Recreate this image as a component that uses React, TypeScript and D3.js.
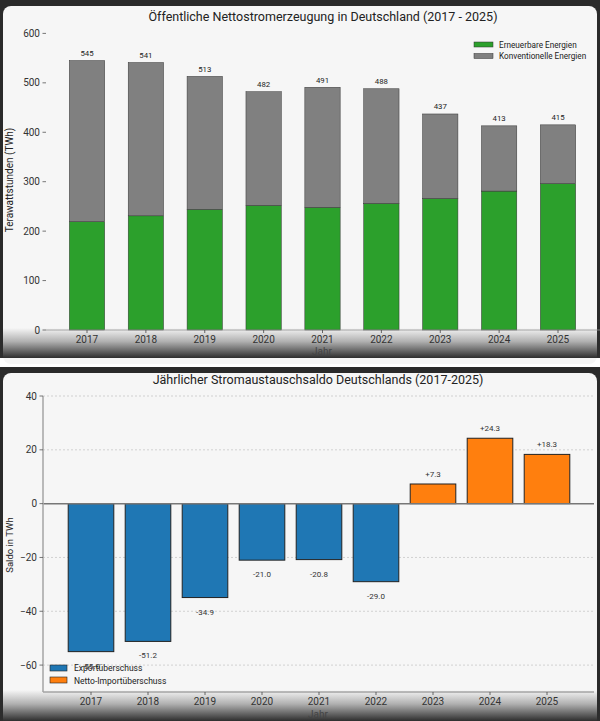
import * as d3 from 'd3'

const FONT = 'Roboto, "Open Sans", sans-serif'

// Öffentliche Nettostromerzeugung (TWh)
const years = ['2017', '2018', '2019', '2020', '2021', '2022', '2023', '2024', '2025']
const renewable = [219, 231, 244, 252, 248, 256, 266, 281, 296]
const total = [545, 541, 513, 482, 491, 488, 437, 413, 415]
const genTicks = [0, 100, 200, 300, 400, 500, 600]

// Stromaustauschsaldo (TWh)
const saldo = [-55.0, -51.2, -34.9, -21.0, -20.8, -29.0, 7.3, 24.3, 18.3]
const saldoTicks = [-60, -40, -20, 0, 20, 40]

function Panel({ top, bottom, id }: { top: number; bottom: number; id: string }) {
  return (
    <g>
      <rect x={0} y={top} width={600} height={bottom - top} fill="#2a2a2a" />
      <rect x={3} y={top + 6} width={594} height={bottom - top} rx={8} fill="#f6f6f6" />
      <defs>
        <linearGradient id={id} x1="0" y1="0" x2="0" y2="1">
          <stop offset="0%" stopColor="#2e2e2e" stopOpacity={0} />
          <stop offset="45%" stopColor="#2e2e2e" stopOpacity={0.35} />
          <stop offset="100%" stopColor="#2e2e2e" stopOpacity={1} />
        </linearGradient>
      </defs>
    </g>
  )
}

function GenerationChart() {
  const x = d3.scaleLinear().domain([0, 8]).range([87, 558])
  const y = d3.scaleLinear().domain([0, 600]).range([330, 33.4])
  const bw = 0.6 * (x(1) - x(0))
  return (
    <g fontFamily={FONT}>
      <text x={323} y={21} textAnchor="middle" fontSize={12.5} fill="#222">
        Öffentliche Nettostromerzeugung in Deutschland (2017 - 2025)
      </text>
      {years.map((yr, i) => (
        <g key={yr}>
          <rect x={x(i) - bw / 2} y={y(renewable[i])} width={bw} height={y(0) - y(renewable[i])}
            fill="#2ca02c" stroke="#333" strokeWidth={0.5} />
          <rect x={x(i) - bw / 2} y={y(total[i])} width={bw} height={y(renewable[i]) - y(total[i])}
            fill="#808080" stroke="#333" strokeWidth={0.5} />
          <text x={x(i)} y={y(total[i]) - 4.5} textAnchor="middle" fontSize={7.8} fill="#222">{total[i]}</text>
        </g>
      ))}
      <line x1={46} x2={600} y1={y(0)} y2={y(0)} stroke="#999" strokeWidth={0.8} />
      {genTicks.map(t => (
        <g key={t}>
          <line x1={42.5} x2={46} y1={y(t)} y2={y(t)} stroke="#555" strokeWidth={0.8} />
          <text x={40} y={y(t) + 3.5} textAnchor="end" fontSize={10} fill="#333">{t}</text>
        </g>
      ))}
      <text transform={`translate(13,${180}) rotate(-90)`} textAnchor="middle" fontSize={10} fill="#222">
        Terawattstunden (TWh)
      </text>
      <g transform="translate(474,0)">
        <rect x={0} y={42} width={19} height={5} fill="#2ca02c" stroke="#333" strokeWidth={0.5} />
        <text x={25} y={47.5} fontSize={8.2} fill="#222">Erneuerbare Energien</text>
        <rect x={0} y={53.5} width={19} height={5} fill="#808080" stroke="#333" strokeWidth={0.5} />
        <text x={25} y={59} fontSize={8.2} fill="#222">Konventionelle Energien</text>
      </g>
      <rect x={0} y={328} width={600} height={30} fill="url(#grad1)" />
      {years.map((yr, i) => (
        <g key={yr}>
          <line x1={x(i)} x2={x(i)} y1={y(0)} y2={y(0) + 3} stroke="#444" strokeWidth={0.8} />
          <text x={x(i)} y={343} textAnchor="middle" fontSize={10} fill="#333">{yr}</text>
        </g>
      ))}
      <text x={322} y={355} textAnchor="middle" fontSize={10} fill="#444">Jahr</text>
    </g>
  )
}

function SaldoChart() {
  const x = d3.scaleLinear().domain([0, 8]).range([91, 547])
  const y = d3.scaleLinear().domain([-70, 40]).range([692, 396])
  const bw = 0.8 * (x(1) - x(0))
  const left = 43
  const right = 594
  const fmt = (v: number) => (v > 0 ? '+' : '') + v.toFixed(1)
  return (
    <g fontFamily={FONT}>
      <text x={318} y={384} textAnchor="middle" fontSize={12.5} fill="#222">
        Jährlicher Stromaustauschsaldo Deutschlands (2017-2025)
      </text>
      {saldoTicks.filter(t => t !== 0).map(t => (
        <line key={t} x1={left} x2={right} y1={y(t)} y2={y(t)} stroke="#c8c8c8" strokeWidth={0.8} strokeDasharray="2,2" />
      ))}
      {saldo.map((v, i) => (
        <g key={i}>
          <rect x={x(i) - bw / 2} y={Math.min(y(v), y(0))} width={bw} height={Math.abs(y(v) - y(0))}
            fill={v < 0 ? '#1f77b4' : '#ff7f0e'} stroke="#222" strokeWidth={1} />
          <text x={x(i)} y={v < 0 ? y(v) + 17 : y(v) - 7} textAnchor="middle" fontSize={8} fill="#333">{fmt(v)}</text>
        </g>
      ))}
      <line x1={left} x2={right} y1={y(0)} y2={y(0)} stroke="#777" strokeWidth={1.5} />
      <line x1={left} x2={left} y1={y(40)} y2={y(-70)} stroke="#aaa" strokeWidth={1.6} />
      <line x1={left} x2={right} y1={y(-70)} y2={y(-70)} stroke="#aaa" strokeWidth={1.6} />
      {saldoTicks.map(t => (
        <g key={t}>
          <line x1={39.5} x2={left} y1={y(t)} y2={y(t)} stroke="#555" strokeWidth={0.8} />
          <text x={37} y={y(t) + 3.5} textAnchor="end" fontSize={10} fill="#333">{t < 0 ? '\u2212' + Math.abs(t) : t}</text>
        </g>
      ))}
      <text transform={`translate(13,${545}) rotate(-90)`} textAnchor="middle" fontSize={9.5} fill="#222">
        Saldo in TWh
      </text>
      <g transform="translate(50,0)">
        <rect x={0} y={665} width={17} height={6} fill="#1f77b4" stroke="#222" strokeWidth={0.6} />
        <text x={24} y={671} fontSize={8.5} fill="#222">Exportüberschuss</text>
        <rect x={0} y={677} width={17} height={6} fill="#ff7f0e" stroke="#222" strokeWidth={0.6} />
        <text x={24} y={683.5} fontSize={8.5} fill="#222">Netto-Importüberschuss</text>
      </g>
      <rect x={0} y={690} width={600} height={31} fill="url(#grad2)" />
      {years.map((yr, i) => (
        <g key={yr}>
          <line x1={x(i)} x2={x(i)} y1={y(-70)} y2={y(-70) + 3} stroke="#444" strokeWidth={0.8} />
          <text x={x(i)} y={704.5} textAnchor="middle" fontSize={10} fill="#333">{yr}</text>
        </g>
      ))}
      <text x={318} y={718} textAnchor="middle" fontSize={10} fill="#444">Jahr</text>
    </g>
  )
}

export default function App() {
  return (
    <svg width={600} height={721} style={{ position: 'absolute', left: 0, top: 0 }}>
      <rect width={600} height={721} fill="#ffffff" />
      <Panel top={0} bottom={358} id="grad1" />
      <Panel top={367} bottom={721} id="grad2" />
      <GenerationChart />
      <SaldoChart />
    </svg>
  )
}
